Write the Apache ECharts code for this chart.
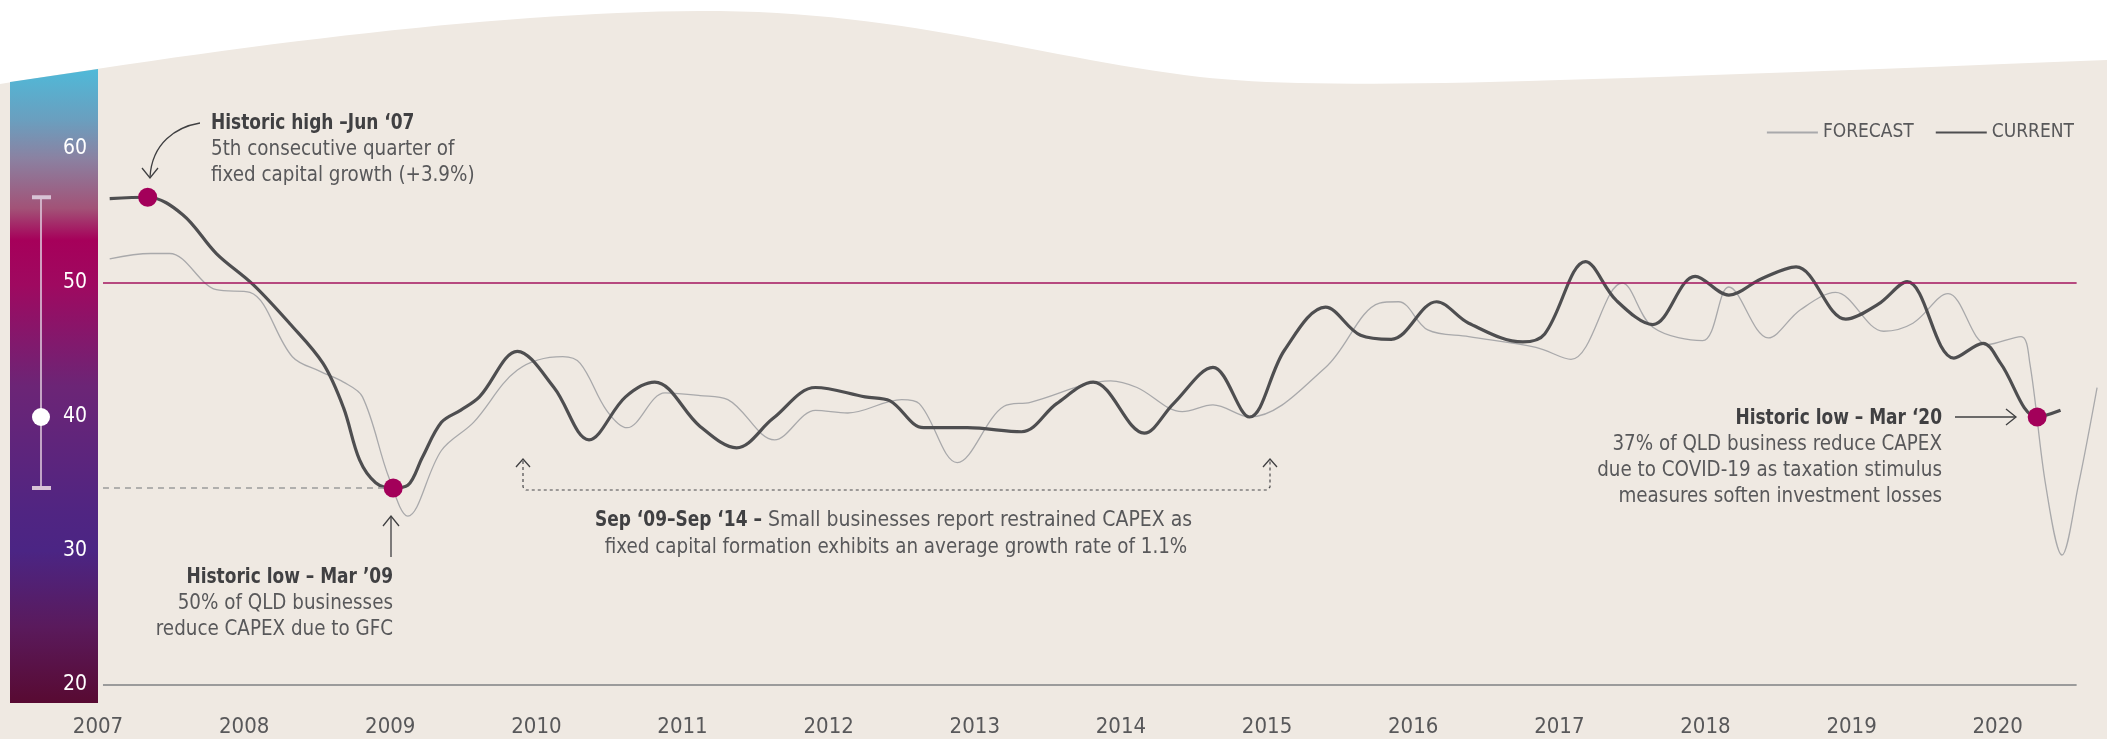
<!DOCTYPE html>
<html>
<head>
<meta charset="utf-8">
<title>QLD capital expenditure index</title>
<script src="https://cdn.jsdelivr.net/npm/echarts@6.0.0/dist/echarts.min.js"></script>
<style>
  html, body { margin: 0; padding: 0; background: #ffffff; }
  #main { width: 2107px; height: 739px; }
</style>
</head>
<body>
<div id="main"></div>
<script>
// readings (decimal year) of the current index
var currentDates = [2007.08, 2007.34, 2007.58, 2007.81, 2008.06, 2008.31, 2008.54, 2008.68, 2008.79, 2008.90,
  2009.02, 2009.12, 2009.22, 2009.35, 2009.48, 2009.61, 2009.87, 2010.12, 2010.36, 2010.61,
  2010.81, 2011.12, 2011.37, 2011.62, 2011.91, 2012.25, 2012.42, 2012.65, 2012.95, 2013.32,
  2013.56, 2013.81, 2014.16, 2014.36, 2014.63, 2014.88, 2015.12, 2015.40, 2015.64, 2015.85,
  2016.16, 2016.38, 2016.75, 2016.90, 2017.18, 2017.39, 2017.64, 2017.93, 2018.16, 2018.38,
  2018.62, 2018.96, 2019.18, 2019.38, 2019.70, 2019.90, 2020.02, 2020.27, 2020.43];
var currentValues = [56.3, 56.4, 55.1, 52.2, 49.9, 47.0, 44.0, 40.7, 36.8, 35.1,
  34.7, 34.9, 37.0, 39.6, 40.5, 41.5, 44.9, 42.2, 38.3, 41.5,
  42.6, 39.3, 37.7, 39.9, 42.2, 41.5, 41.2, 39.2, 39.2, 38.9,
  41.0, 42.6, 38.8, 41.0, 43.7, 40.0, 45.0, 48.2, 46.1, 45.8,
  48.6, 47.0, 45.6, 46.2, 51.6, 48.7, 46.9, 50.5, 49.1, 50.3,
  51.2, 47.3, 48.4, 50.1, 44.4, 45.5, 44.0, 40.0, 40.5];

// readings of the forecast index
var forecastDates = [2007.08, 2007.36, 2007.49, 2007.81, 2008.04, 2008.33, 2008.52, 2008.68, 2008.81, 2008.99,
  2009.12, 2009.35, 2009.57, 2009.87, 2010.18, 2010.30, 2010.48, 2010.62, 2010.88, 2011.12,
  2011.31, 2011.63, 2011.91, 2012.13, 2012.50, 2012.62, 2012.88, 2013.20, 2013.38, 2013.93,
  2014.11, 2014.42, 2014.63, 2014.88, 2015.40, 2015.77, 2015.90, 2016.10, 2016.38, 2016.84,
  2017.08, 2017.43, 2017.64, 2017.98, 2018.16, 2018.43, 2018.65, 2018.89, 2019.22, 2019.42,
  2019.66, 2019.93, 2020.16, 2020.22, 2020.33, 2020.44, 2020.55, 2020.68];
var forecastValues = [51.8, 52.2, 52.2, 49.5, 49.3, 44.5, 43.4, 42.6, 41.5, 35.5,
  32.6, 37.5, 39.6, 43.5, 44.5, 44.0, 40.5, 39.2, 41.8, 41.6,
  41.3, 38.3, 40.5, 40.3, 41.3, 41.0, 36.6, 40.8, 41.1, 42.7,
  42.2, 40.4, 40.9, 40.0, 43.7, 48.5, 48.6, 46.5, 46.0, 45.2,
  44.3, 50.0, 46.7, 45.7, 49.7, 45.9, 48.0, 49.3, 46.4, 47.0,
  49.2, 45.4, 46.0, 44.0, 34.8, 29.7, 34.8, 42.2];

// highlighted quarters: Jun '07 high, Mar '09 low, Mar '20 low
var highlightDates = [2007.34, 2009.02, 2020.27];

var yearTicks = [2007, 2008, 2009, 2010, 2011, 2012, 2013, 2014, 2015, 2016, 2017, 2018, 2019, 2020];
var valueTicks = [20, 30, 40, 50, 60];
var neutralLevel = 50;

var FONT = "'Liberation Sans Narrow', 'DejaVu Sans Condensed', Roboto, sans-serif";
var INK = '#404042';
var TEXT = '#58585a';
var MAGENTA = '#a3005a';

function pairs(xs, ys) {
  return xs.map(function (x, i) { return [x, ys[i]]; });
}

var currentData = pairs(currentDates, currentValues);
var forecastData = pairs(forecastDates, forecastValues);
var dotData = highlightDates.map(function (d) {
  return [d, currentValues[currentDates.indexOf(d)]];
});
var lowPoint = dotData[1];
var lineStart = yearTicks[0] + 0.034;
var lineEnd = yearTicks[yearTicks.length - 1] + 0.54;

var chart = echarts.init(document.getElementById('main'));

var option = {
  backgroundColor: '#ffffff',
  animation: false,
  textStyle: { fontFamily: FONT },
  grid: { left: 98, right: 7, top: 15, bottom: 54 },
  legend: {
    data: ['FORECAST', 'CURRENT'],
    right: 28,
    top: 118,
    itemWidth: 51,
    itemHeight: 10,
    itemGap: 21,
    itemStyle: { opacity: 0 },
    textStyle: { fontFamily: FONT, fontSize: 19, color: TEXT }
  },
  xAxis: {
    type: 'value',
    min: yearTicks[0],
    max: 2020.7,
    interval: 1,
    axisLine: { show: false },
    axisTick: { show: false },
    splitLine: { show: false },
    axisLabel: {
      margin: 31,
      fontSize: 22,
      color: TEXT,
      fontFamily: FONT,
      formatter: function (v) { return yearTicks.indexOf(v) >= 0 ? String(v) : ''; }
    }
  },
  yAxis: {
    type: 'value',
    min: valueTicks[0],
    max: 70,
    interval: 10,
    axisLine: { show: false },
    axisTick: { show: false },
    splitLine: { show: false },
    axisLabel: {
      margin: 11,
      fontSize: 21,
      color: '#ffffff',
      fontFamily: FONT,
      formatter: function (v) { return valueTicks.indexOf(v) >= 0 ? String(v) : ''; }
    }
  },
  series: [
    {
      name: 'FORECAST',
      type: 'line',
      data: forecastData,
      smooth: 0.35,
      symbol: 'none',
      z: 3,
      lineStyle: { color: '#a9a9ab', width: 1.3 },
      itemStyle: { color: '#a9a9ab' },
      markLine: {
        silent: true,
        symbol: 'none',
        label: { show: false },
        data: [
          [{ coord: [lineStart, neutralLevel], lineStyle: { color: '#a3135e', width: 1.6, type: 'solid' } },
           { coord: [lineEnd, neutralLevel] }],
          [{ coord: [lineStart, valueTicks[0]], lineStyle: { color: '#9b9b9b', width: 2, type: 'solid' } },
           { coord: [lineEnd, valueTicks[0]] }]
        ]
      }
    },
    {
      name: 'CURRENT',
      type: 'line',
      data: currentData,
      smooth: 0.35,
      symbol: 'none',
      z: 4,
      lineStyle: { color: '#4e4e50', width: 3.2 },
      itemStyle: { color: '#4e4e50' },
      markLine: {
        silent: true,
        symbol: 'none',
        label: { show: false },
        lineStyle: { color: '#9c9c9c', width: 1.5, type: [6, 5] },
        data: [
          [{ coord: [lineStart, lowPoint[1]] }, { coord: [lowPoint[0], lowPoint[1]] }]
        ]
      }
    },
    {
      name: 'highlight',
      type: 'scatter',
      data: dotData,
      symbolSize: 19,
      z: 6,
      itemStyle: { color: MAGENTA, opacity: 1 }
    }
  ]
};

chart.setOption(option);

// sample a cubic bezier into polygon points
function cubic(p0, p1, p2, p3, n) {
  var pts = [];
  for (var i = 0; i <= n; i++) {
    var t = i / n, u = 1 - t;
    pts.push([
      u * u * u * p0[0] + 3 * u * u * t * p1[0] + 3 * u * t * t * p2[0] + t * t * t * p3[0],
      u * u * u * p0[1] + 3 * u * u * t * p1[1] + 3 * u * t * t * p2[1] + t * t * t * p3[1]
    ]);
  }
  return pts;
}

// one block of note text; titles are set bold and a little narrower
function note(x, y, text, align, bold, lineHeight, squeeze) {
  return {
    type: 'text', z: 10, x: x, y: y, scaleX: squeeze || (bold ? 0.9 : 0.97),
    style: {
      text: text,
      fontFamily: FONT,
      fontSize: 21,
      fontWeight: bold ? 'bold' : 'normal',
      fill: bold ? INK : TEXT,
      lineHeight: lineHeight || 25.5,
      align: align,
      verticalAlign: 'top'
    }
  };
}

// decorations: backdrop, colour bar, range indicator and notes
function buildGraphics() {
  var yOf = function (v) { return chart.convertToPixel({ yAxisIndex: 0 }, v); };
  var hi = Math.max.apply(null, currentValues);
  var lo = Math.min.apply(null, currentValues);
  var latest = dotData[dotData.length - 1][1];
  var yHi = yOf(hi), yLo = yOf(lo), yLast = yOf(latest);
  var arrowStyle = { stroke: '#3f3f41', lineWidth: 1.3, fill: null };

  var edge = cubic([0, 84], [250, 44], [500, 12], [700, 11], 30)
    .concat(cubic([700, 11], [900, 10], [1040, 58], [1200, 77], 30))
    .concat(cubic([1200, 77], [1320, 90], [1500, 84], [2107, 60], 30));
  edge.push([2107, 739], [0, 739]);

  return [
    { type: 'polygon', z: -20, silent: true, shape: { points: edge }, style: { fill: '#efe9e2' } },
    {
      type: 'polygon', z: -10, silent: true,
      shape: { points: [[10, 82], [98, 69], [98, 703], [10, 703]] },
      style: {
        fill: new echarts.graphic.LinearGradient(0, 0, 0, 1, [
          { offset: 0, color: '#4fb9d8' },
          { offset: 0.08, color: '#6a9fbf' },
          { offset: 0.14, color: '#8a82a2' },
          { offset: 0.22, color: '#a25277' },
          { offset: 0.27, color: '#a6005a' },
          { offset: 0.34, color: '#9f0960' },
          { offset: 0.5, color: '#6c2576' },
          { offset: 0.7, color: '#502582' },
          { offset: 0.76, color: '#4b2584' },
          { offset: 0.88, color: '#5a1a5c' },
          { offset: 1, color: '#580a32' }
        ])
      }
    },
    // high / low / latest indicator inside the colour bar
    { type: 'line', z: -5, silent: true, shape: { x1: 41, y1: yHi, x2: 41, y2: yLo }, style: { stroke: '#dcc7da', lineWidth: 1.6 } },
    { type: 'rect', z: -5, silent: true, shape: { x: 32, y: yHi - 2, width: 19, height: 4 }, style: { fill: '#d8c3d6' } },
    { type: 'rect', z: -5, silent: true, shape: { x: 32, y: yLo - 2, width: 19, height: 4 }, style: { fill: '#d8c3d6' } },
    { type: 'circle', z: -4, silent: true, shape: { cx: 41, cy: yLast, r: 9 }, style: { fill: '#ffffff' } },

    // Jun '07 note
    note(211, 111, 'Historic high –Jun ‘07', 'left', true),
    note(211, 137, '5th consecutive quarter of\nfixed capital growth (+3.9%)', 'left', false),
    { type: 'bezierCurve', z: 10, shape: { x1: 200, y1: 123, cpx1: 176, cpy1: 127, cpx2: 152, cpy2: 143, x2: 150, y2: 177 }, style: arrowStyle },
    { type: 'polyline', z: 10, shape: { points: [[142, 168], [150, 178], [158, 168]] }, style: arrowStyle },

    // Mar '09 note
    note(393, 565, 'Historic low – Mar ’09', 'right', true),
    note(393, 591, '50% of QLD businesses\nreduce CAPEX due to GFC', 'right', false),
    { type: 'line', z: 10, shape: { x1: 391, y1: 557, x2: 391, y2: 517 }, style: arrowStyle },
    { type: 'polyline', z: 10, shape: { points: [[383, 526], [391, 516], [399, 526]] }, style: arrowStyle },

    // Sep '09 - Sep '14 note
    note(595, 508, 'Sep ‘09–Sep ‘14 –', 'left', true),
    note(768, 508, 'Small businesses report restrained CAPEX as', 'left', false, 25.5, 1.0),
    note(896, 535, 'fixed capital formation exhibits an average growth rate of 1.1%', 'center', false),
    {
      type: 'polyline', z: 10,
      shape: { points: [[523, 461], [523, 487], [526, 490], [1267, 490], [1270, 487], [1270, 461]] },
      style: { stroke: '#4a4a4c', lineWidth: 1.2, fill: null, lineDash: [3, 3] }
    },
    { type: 'polyline', z: 10, shape: { points: [[516, 467], [523, 459], [530, 467]] }, style: arrowStyle },
    { type: 'polyline', z: 10, shape: { points: [[1263, 467], [1270, 459], [1277, 467]] }, style: arrowStyle },

    // Mar '20 note
    note(1942, 406, 'Historic low – Mar ‘20', 'right', true),
    note(1942, 432, '37% of QLD business reduce CAPEX\ndue to COVID-19 as taxation stimulus\nmeasures soften investment losses', 'right', false, 26),
    { type: 'line', z: 10, shape: { x1: 1955, y1: 417, x2: 2015, y2: 417 }, style: arrowStyle },
    { type: 'polyline', z: 10, shape: { points: [[2006, 409], [2016, 417], [2006, 425]] }, style: arrowStyle }
  ];
}

chart.setOption({ graphic: buildGraphics() });
</script>
</body>
</html>
